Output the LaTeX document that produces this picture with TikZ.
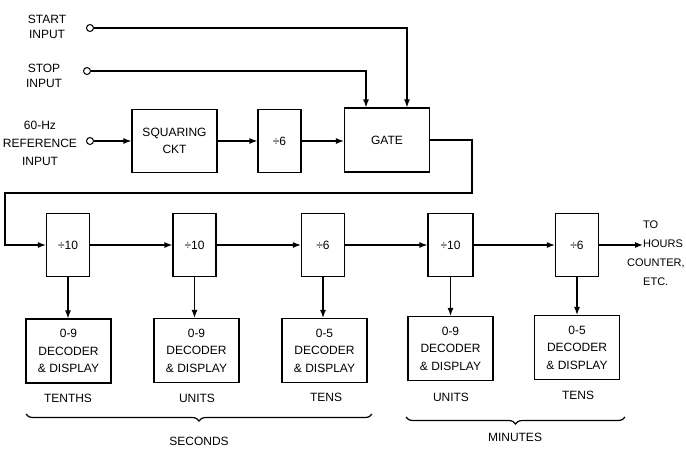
\documentclass[tikz,border=0pt]{standalone}
\usepackage{fontspec}
\setmainfont{Liberation Sans}
\usetikzlibrary{arrows.meta,decorations.pathreplacing}
\begin{document}
\begin{tikzpicture}[x=1pt,y=-1pt,
 box/.style={draw,line width=1.2pt,minimum width=85pt,minimum height=63pt,inner sep=0pt,align=center,font=\fontsize{12}{17.5}\selectfont},
 divbox/.style={box,minimum width=43pt},
 lbl/.style={font=\fontsize{12}{15}\selectfont,align=center,inner sep=0pt},
 wire/.style={line width=1.2pt},
 arr/.style={wire,-{Latex[length=8pt,width=6pt]}},
 term/.style={circle,draw,line width=1pt,minimum size=7pt,inner sep=0pt},
 brc/.style={wire,decorate,decoration={brace,amplitude=7pt,mirror}}]
\useasboundingbox (0,0) rectangle (686,448);
% top row
\node[box] (sq) at (174.5,141) {SQUARING\\CKT};
\node[divbox] (dv6) at (279.5,141) {÷6};
\node[box,minimum height=64pt] (gate) at (387,140) {GATE};
\node[term] (tstart) at (90,28) {};
\node[term] (tstop) at (87,71) {};
\node[term] (tref) at (90,141) {};
\node[lbl] (lstart) at (47,27) {START\\INPUT};
\node[lbl] (lstop) at (44,76) {STOP\\INPUT};
\node[lbl,font=\fontsize{12}{18}\selectfont] (lref) at (40,143) {60-Hz\\REFERENCE\\INPUT};
\draw[arr] (tstart.east) -| ([xshift=20pt]gate.north);
\draw[arr] (tstop.east) -| ([xshift=-21pt]gate.north);
\draw[arr] (tref.east) -- (tref.east -| sq.west);
\draw[arr] (sq.east) -- (dv6.west);
\draw[arr] (dv6.east) -- (dv6.east -| gate.west);
% second row
\node[divbox] (d1) at (68,245) {÷10};
\node[divbox] (d2) at (194.5,245) {÷10};
\node[divbox] (d3) at (323,245) {÷6};
\node[divbox,minimum width=45pt] (d4) at (450.5,245) {÷10};
\node[divbox] (d5) at (577,245) {÷6};
\coordinate (g1) at (472,193);
\coordinate (g2) at (5,193);
\draw[arr] (gate.east) -| (g1) -- (g2) |- (d1.west);
\draw[arr] (d1.east) -- (d2.west);
\draw[arr] (d2.east) -- (d3.west);
\draw[arr] (d3.east) -- (d4.west);
\draw[arr] (d4.east) -- (d5.west);
\coordinate (out) at (643,245);
\draw[arr] (d5.east) -- (out);
\node[lbl,font=\fontsize{11}{19}\selectfont,anchor=west,align=left] (to) at (643,253.5) {TO\\HOURS\\\hspace*{-16pt}COUNTER,\\ETC.};
% decoders
\node[box,minimum height=64pt] (e1) at (68.5,351) {0-9\\DECODER\\\& DISPLAY};
\node[box,minimum height=64pt] (e2) at (196.5,350.5) {0-9\\DECODER\\\& DISPLAY};
\node[box,minimum height=64pt] (e3) at (324.5,350.5) {0-5\\DECODER\\\& DISPLAY};
\node[box,minimum height=64pt] (e4) at (450.5,348.5) {0-9\\DECODER\\\& DISPLAY};
\node[box,minimum height=64pt] (e5) at (577,347.5) {0-5\\DECODER\\\& DISPLAY};
\foreach \i in {1,...,5}{\draw[arr] (d\i.south) -- (d\i.south |- e\i.north);}
\node[lbl] (n1) at (68,398) {TENTHS};
\node[lbl] (n2) at (197,398) {UNITS};
\node[lbl] (n3) at (326,397.5) {TENS};
\node[lbl] (n4) at (451,397) {UNITS};
\node[lbl] (n5) at (578,395) {TENS};
% braces
\draw[brc] (26,414) -- (372,414);
\draw[brc] (406,417) -- (625,417);
\node[lbl] (sec) at (199,441) {SECONDS};
\node[lbl] (min) at (515,437) {MINUTES};
\end{tikzpicture}
\end{document}
